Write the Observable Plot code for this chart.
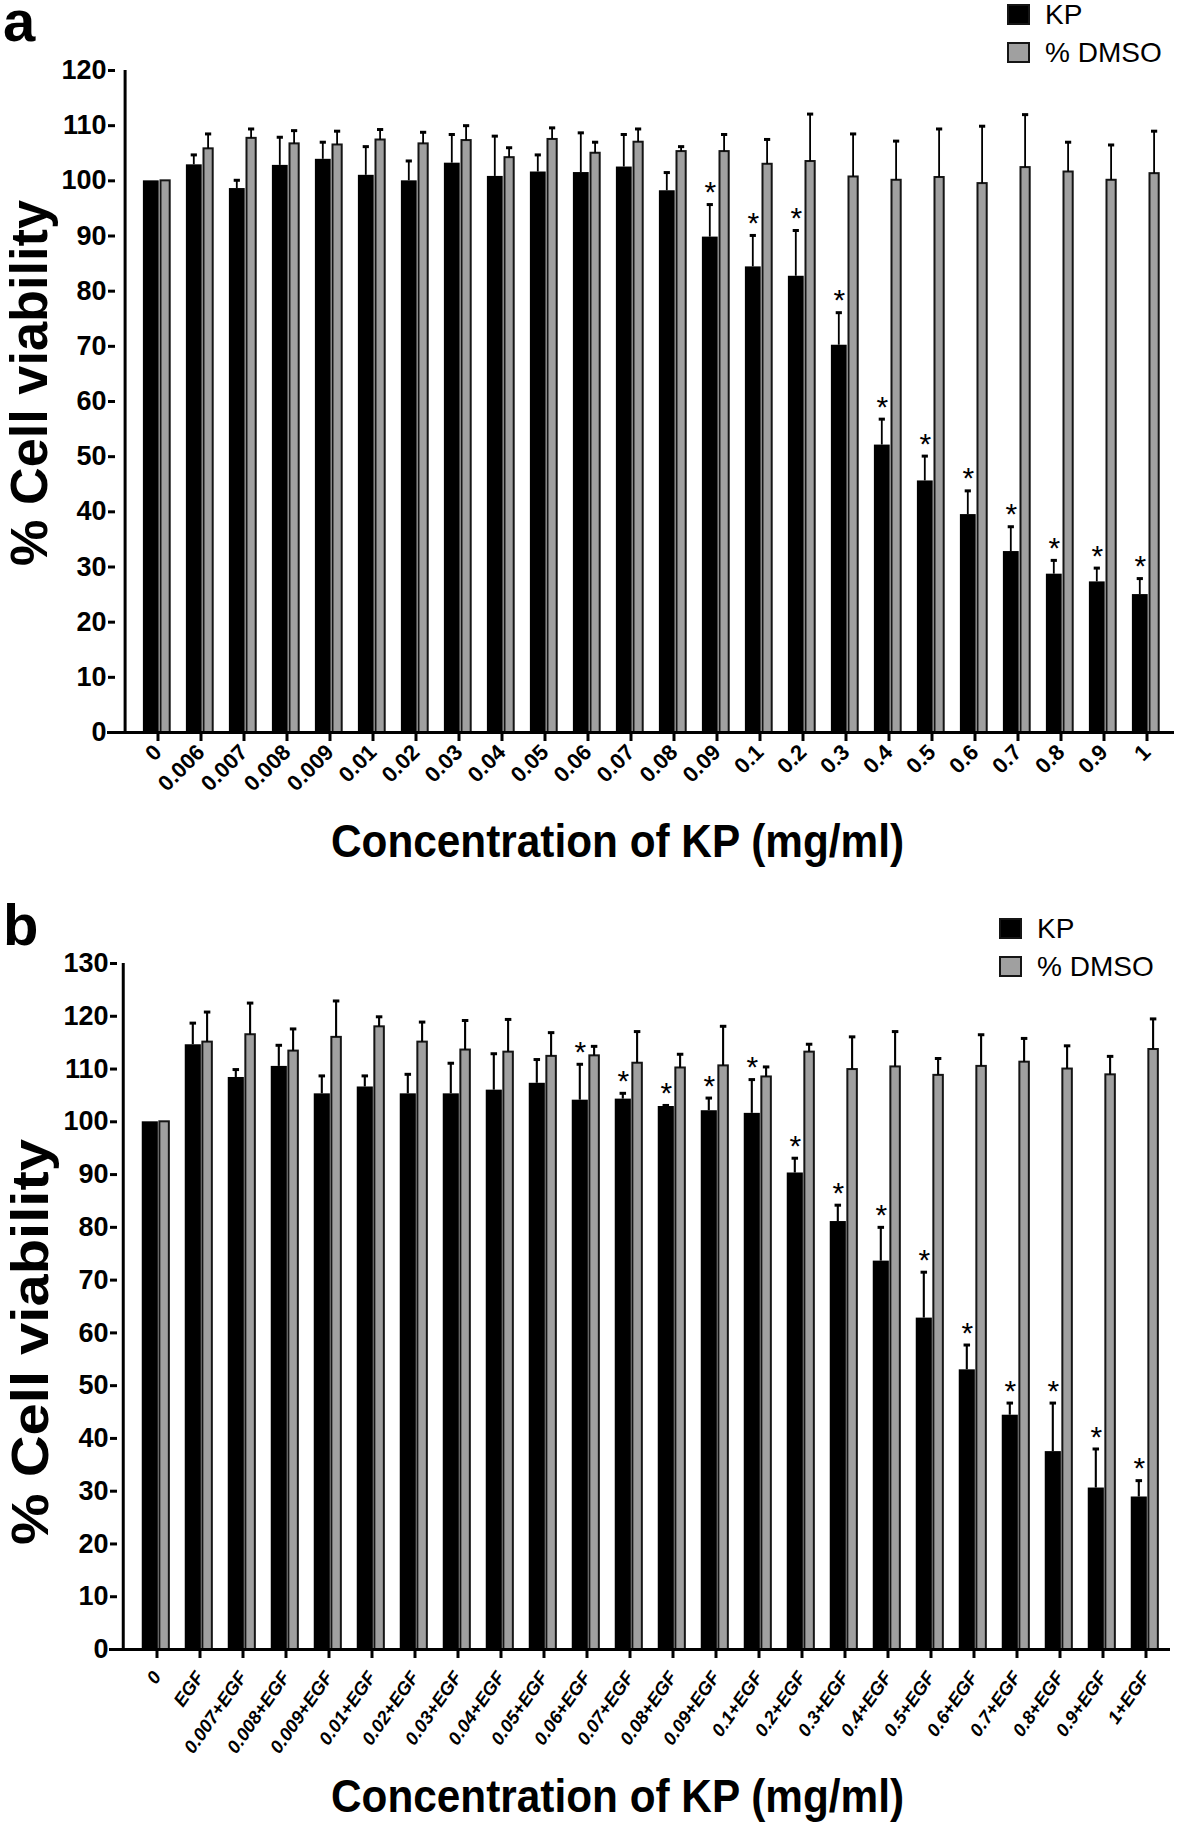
<!DOCTYPE html>
<html>
<head>
<meta charset="utf-8">
<script src="https://cdn.jsdelivr.net/npm/d3@7"></script>
<script src="https://cdn.jsdelivr.net/npm/@observablehq/plot@0.6"></script>
<style>
  body { margin: 0; background: #fff; }
  #wrap { position: relative; width: 1181px; height: 1833px; overflow: hidden; background: #fff; }
  .pane { position: absolute; left: 0; }
  #overlay { position: absolute; left: 0; top: 0; pointer-events: none; }
  #overlay text { font-family: "Liberation Sans", Arial, sans-serif; fill: #000; }
</style>
</head>
<body>
<div id="wrap">
  <div class="pane" id="paneA" style="top:0px"></div>
  <div class="pane" id="paneB" style="top:880px"></div>
</div>
<script>
// ---------- Panel a data ----------
const categoriesA = ["0","0.006","0.007","0.008","0.009","0.01","0.02","0.03","0.04","0.05","0.06","0.07","0.08","0.09","0.1","0.2","0.3","0.4","0.5","0.6","0.7","0.8","0.9","1"];
const kpMeanA   = [100,102.9,98.6,102.8,103.9,101.0,100.0,103.2,100.8,101.6,101.5,102.5,98.2,89.8,84.4,82.7,70.2,52.1,45.6,39.5,32.8,28.7,27.3,25.0];
const kpSdA     = [0,1.8,1.5,5.1,3.1,5.2,3.6,5.2,7.3,3.1,7.2,5.9,3.3,5.9,5.7,8.3,5.9,4.7,4.5,4.3,4.5,2.5,2.5,2.9];
const dmsoMeanA = [100,105.8,107.7,106.7,106.5,107.4,106.7,107.3,104.2,107.5,105.0,107.0,105.3,105.3,103.0,103.5,100.7,100.1,100.6,99.5,102.4,101.6,100.1,101.3];
const dmsoSdA   = [0,2.7,1.7,2.4,2.5,1.9,2.1,2.7,1.8,2.1,2.0,2.4,0.9,3.1,4.5,8.6,7.8,7.1,8.8,10.4,9.6,5.4,6.4,7.7];
const sigA      = [0,0,0,0,0,0,0,0,0,0,0,0,0,1,1,1,1,1,1,1,1,1,1,1];
const yTicksA   = [0,10,20,30,40,50,60,70,80,90,100,110,120];

// ---------- Panel b data ----------
const categoriesB = ["0","EGF","0.007+EGF","0.008+EGF","0.009+EGF","0.01+EGF","0.02+EGF","0.03+EGF","0.04+EGF","0.05+EGF","0.06+EGF","0.07+EGF","0.08+EGF","0.09+EGF","0.1+EGF","0.2+EGF","0.3+EGF","0.4+EGF","0.5+EGF","0.6+EGF","0.7+EGF","0.8+EGF","0.9+EGF","1+EGF"];
const kpMeanB   = [100,114.6,108.4,110.5,105.3,106.6,105.3,105.3,106.0,107.3,104.1,104.3,102.9,102.1,101.6,90.3,81.1,73.6,62.8,53.0,44.4,37.5,30.6,28.9];
const kpSdB     = [0,4.1,1.5,4.0,3.4,2.1,3.7,5.8,6.9,4.5,6.8,1.1,0.2,2.4,6.4,2.8,3.1,6.4,8.7,4.7,2.3,9.2,7.4,3.1];
const dmsoMeanB = [100,115.1,116.5,113.4,116.0,118.0,115.1,113.6,113.2,112.4,112.5,111.1,110.2,110.6,108.5,113.2,109.9,110.4,108.8,110.5,111.3,110.0,108.9,113.7];
const dmsoSdB   = [0,5.7,6.0,4.2,6.9,1.9,3.8,5.6,6.2,4.5,1.8,6.0,2.6,7.5,1.9,1.5,6.2,6.7,3.2,6.0,4.5,4.4,3.5,5.8];
const sigB      = [0,0,0,0,0,0,0,0,0,0,1,1,1,1,1,1,1,1,1,1,1,1,1,1];
const yTicksB   = [0,10,20,30,40,50,60,70,80,90,100,110,120,130];

const seriesNames = ["KP", "% DMSO"];
const xTitle = "Concentration of KP (mg/ml)";
const yTitle = "% Cell viability";

function panel(cfg) {
  const {cats, kp, kpSd, dmso, dmsoSd, sig, yMax, yTicks, height, mt, mb, ml, mr, axisAt,
         tickRotate, tickFontSize, tickFontStyle, tickDx, tickPadding} = cfg;
  const W = 1181;
  const rows = cats.map((c, i) => ({cat: c, kp: kp[i], kpSd: kpSd[i], dmso: dmso[i], dmsoSd: dmsoSd[i], sig: sig[i]}));
  const half = (W - ml - mr) / cats.length / 2;
  const KO = -5.7, DO = 8.6;
  const errK = rows.filter(d => d.kpSd > 0);
  const errD = rows.filter(d => d.dmsoSd > 0);
  const shift = axisAt - ml; // y-axis line offset from the band range start
  return Plot.plot({
    width: W, height, marginTop: mt, marginBottom: mb, marginLeft: ml, marginRight: mr,
    style: {fontFamily: '"Liberation Sans", Arial, sans-serif', background: "transparent", overflow: "visible", color: "#000"},
    x: {type: "band", domain: cats, padding: 0, label: null},
    y: {domain: [0, yMax], label: null},
    marks: [
      Plot.barY(rows, {x: "cat", y: "kp", fill: "#000", insetLeft: half - 14, insetRight: half - 2.6}),
      Plot.barY(rows, {x: "cat", y: "dmso", fill: "#a0a0a0", stroke: "#151515", strokeWidth: 2, insetLeft: half + 3.6, insetRight: half - 13.6}),
      Plot.barY(errK, {x: "cat", y1: "kp", y2: d => d.kp + d.kpSd, fill: "#000", insetLeft: half + KO - 1.3, insetRight: half - KO - 1.3}),
      Plot.tickY(errK, {x: "cat", y: d => d.kp + d.kpSd, stroke: "#000", strokeWidth: 3, insetLeft: half + KO - 3.5, insetRight: half - KO - 3.5}),
      Plot.barY(errD, {x: "cat", y1: "dmso", y2: d => d.dmso + d.dmsoSd, fill: "#000", insetLeft: half + DO - 1.3, insetRight: half - DO - 1.3}),
      Plot.tickY(errD, {x: "cat", y: d => d.dmso + d.dmsoSd, stroke: "#000", strokeWidth: 3, insetLeft: half + DO - 3.5, insetRight: half - DO - 3.5}),
      Plot.text(rows.filter(d => d.sig), {x: "cat", y: d => d.kp + d.kpSd, text: () => "*", dx: KO, dy: -12, fontSize: 30}),
      Plot.ruleY([0], {strokeWidth: 3, insetLeft: shift - 8, insetRight: 2}),
      Plot.ruleX([cats[0]], {y1: 0, y2: yMax, strokeWidth: 3, dx: -half + shift}),
      Plot.axisY({ticks: yTicks, tickFormat: d => String(d), tickSize: 7, tickPadding: 2, dx: shift, fontSize: 27, fontWeight: "bold", strokeWidth: 3, label: null}),
      Plot.axisX({tickSize: 9, tickPadding, tickRotate, dx: tickDx, fontSize: tickFontSize, fontWeight: "bold", fontStyle: tickFontStyle, strokeWidth: 3, label: null})
    ]
  });
}

document.getElementById("paneA").appendChild(panel({
  cats: categoriesA, kp: kpMeanA, kpSd: kpSdA, dmso: dmsoMeanA, dmsoSd: dmsoSdA, sig: sigA,
  yMax: 120, yTicks: yTicksA, height: 820, mt: 70, mb: 88, ml: 125, mr: 5, axisAt: 115,
  tickRotate: -45, tickFontSize: 22, tickFontStyle: "normal", tickDx: 1, tickPadding: 7
}));
document.getElementById("paneB").appendChild(panel({
  cats: categoriesB, kp: kpMeanB, kpSd: kpSdB, dmso: dmsoMeanB, dmsoSd: dmsoSdB, sig: sigB,
  yMax: 130, yTicks: yTicksB, height: 900, mt: 83, mb: 131, ml: 128, mr: 9, axisAt: 117,
  tickRotate: -55, tickFontSize: 18.5, tickFontStyle: "italic", tickDx: 1, tickPadding: 15
}));

// ---------- Overlay: panel letters, legends, axis titles ----------
const NS = "http://www.w3.org/2000/svg";
const ov = document.createElementNS(NS, "svg");
ov.setAttribute("id", "overlay");
ov.setAttribute("width", 1181);
ov.setAttribute("height", 1833);
document.getElementById("wrap").appendChild(ov);
function T(str, attrs) {
  const t = document.createElementNS(NS, "text");
  for (const k in attrs) t.setAttribute(k, attrs[k]);
  t.textContent = str;
  ov.appendChild(t);
  return t;
}
function R(attrs) {
  const r = document.createElementNS(NS, "rect");
  for (const k in attrs) r.setAttribute(k, attrs[k]);
  ov.appendChild(r);
}
const legendFill = ["#000", "#a0a0a0"];
function decorate(letter, top, o) {
  T(letter, {x: 3, y: top + o.letterBase, "font-size": 58, "font-weight": "bold"});
  seriesNames.forEach((s, i) => {
    R({x: o.lx, y: top + o.ly + i * 38, width: 21, height: 19, fill: legendFill[i], stroke: "#151515", "stroke-width": 2});
    T(s, {x: o.lx + 37, y: top + o.ly + 19 + i * 38, "font-size": 28});
  });
  T(yTitle, {transform: `translate(${o.yx},${top + o.yc}) rotate(-90)`, "text-anchor": "middle", "font-size": o.ys, "font-weight": "bold", textLength: o.yl, lengthAdjust: "spacingAndGlyphs"});
  T(xTitle, {x: 331, y: top + o.xb, "font-size": 46, "font-weight": "bold", textLength: 573, lengthAdjust: "spacingAndGlyphs"});
}
decorate("a", 0, {letterBase: 41, lx: 1008, ly: 5, yx: 47, yc: 383, ys: 51, yl: 366, xb: 857});
decorate("b", 880, {letterBase: 65, lx: 1000, ly: 39, yx: 48, yc: 462, ys: 52, yl: 406, xb: 932});
</script>
</body>
</html>
